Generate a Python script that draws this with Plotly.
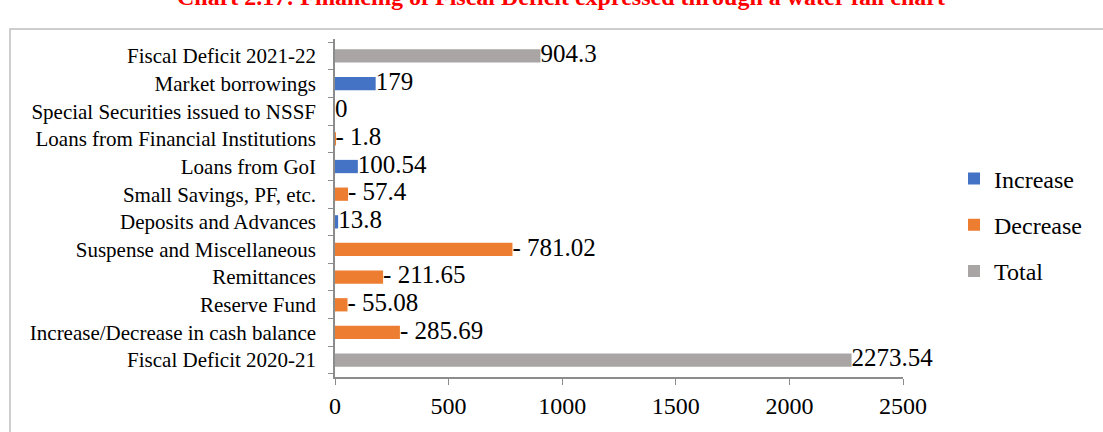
import plotly.graph_objects as go

# Categories, bottom to top
categories = [
    "Fiscal Deficit 2020-21",
    "Increase/Decrease in cash balance",
    "Reserve Fund",
    "Remittances",
    "Suspense and Miscellaneous",
    "Deposits and Advances",
    "Small Savings, PF, etc.",
    "Loans from GoI",
    "Loans from Financial Institutions",
    "Special Securities issued to NSSF",
    "Market borrowings",
    "Fiscal Deficit 2021-22",
]

# Magnitudes per series (None where the series has no bar)
increase = [None, None, None, None, None, 13.8, None, 100.54, None, 0, 179, None]
decrease = [None, 285.69, 55.08, 211.65, 781.02, None, 57.4, None, 1.8, None, None, None]
total = [2273.54, None, None, None, None, None, None, None, None, None, None, 904.3]

# Data labels, one per category
value_labels = ["2273.54", "- 285.69", "- 55.08", "- 211.65", "- 781.02", "13.8",
                "- 57.4", "100.54", "- 1.8", "0", "179", "904.3"]

x_ticks = [0, 500, 1000, 1500, 2000, 2500]

SERIF = "Liberation Serif"

W, H = 1103, 432
ml, mr, mt, mb = 335, 200, 39, 55
pw, ph = W - ml - mr, H - mt - mb


def px_x(p):
    return (p - ml) / pw


def px_y(p):
    return (H - mb - p) / ph


fig = go.Figure()
for name, vals, color in [
    ("Increase", increase, "#4472C4"),
    ("Decrease", decrease, "#ED7D31"),
    ("Total", total, "#A9A5A5"),
]:
    fig.add_trace(go.Bar(
        name=name, y=categories, x=vals, orientation="h",
        marker=dict(color=color, line=dict(width=0)),
        legendgroup=name,
    ))

# Bar end position for each category, taken from whichever series it belongs to
bar_ends = [next(v for v in (a, b, c) if v is not None)
            for a, b, c in zip(increase, decrease, total)]

fig.add_trace(go.Scatter(
    y=categories, x=bar_ends, mode="text", text=value_labels,
    textposition="middle right", showlegend=False, cliponaxis=False,
    textfont=dict(family=SERIF, size=25, color="black"),
    hoverinfo="skip",
))

fig.update_layout(
    width=W, height=H,
    font=dict(family=SERIF, color="black"),
    margin=dict(l=ml, r=mr, t=mt, b=mb, autoexpand=False),
    paper_bgcolor="white", plot_bgcolor="white",
    barmode="overlay", bargap=0.52,
    showlegend=True,
    legend=dict(
        xref="container", yref="container",
        x=954 / W, y=1 - 225 / H, xanchor="left", yanchor="middle",
        font=dict(family=SERIF, size=24, color="black"),
        tracegroupgap=12, itemwidth=30, bgcolor="rgba(0,0,0,0)",
    ),
    xaxis=dict(
        range=[0, 2500], tickvals=x_ticks, showgrid=False, zeroline=False,
        showline=True, linecolor="#8C8C8C", linewidth=1.5,
        ticks="outside", ticklen=6, tickcolor="#8C8C8C",
        tickfont=dict(family=SERIF, size=24, color="black"),
        automargin=False,
    ),
    yaxis=dict(
        type="category", categoryorder="array", categoryarray=categories,
        showgrid=False, zeroline=False,
        showline=True, linecolor="#8C8C8C", linewidth=1.5,
        ticks="outside", ticklen=5, tickcolor="#8C8C8C", tickson="boundaries",
        ticklabelstandoff=13,
        tickfont=dict(family=SERIF, size=21, color="black"),
        automargin=False,
    ),
    shapes=[dict(
        type="rect", xref="paper", yref="paper",
        x0=px_x(10), x1=px_x(1120), y0=px_y(450), y1=px_y(29),
        line=dict(color="#BFBFBF", width=1.5), fillcolor="rgba(0,0,0,0)",
    )],
    annotations=[dict(
        text="<b>Chart 2.17: Financing of Fiscal Deficit expressed through a water fall chart</b>",
        xref="paper", yref="paper", x=px_x(561), y=px_y(-3),
        xanchor="center", yanchor="middle", showarrow=False,
        font=dict(family=SERIF, size=24, color="red"),
    )],
)

fig.write_html("out.html")
